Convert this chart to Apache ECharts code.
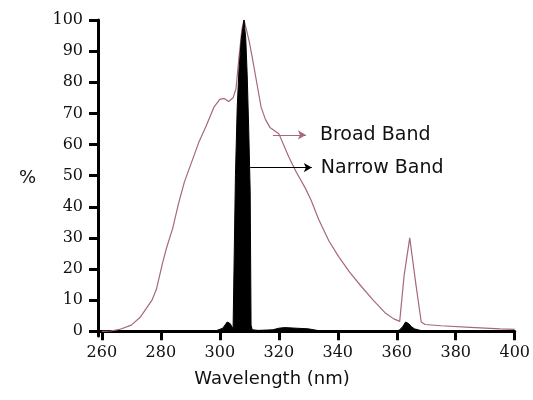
<!DOCTYPE html>
<html>
<head>
<meta charset="utf-8">
<script src="https://cdn.jsdelivr.net/npm/echarts@6/dist/echarts.min.js"></script>
<style>
  html, body { margin: 0; padding: 0; background: #fff; }
  #chart { width: 533px; height: 400px; }
</style>
</head>
<body>
<div id="chart"></div>
<script>
// tick labels
var xTicks = [260, 280, 300, 320, 340, 360, 380, 400];
var yTicks = [0, 10, 20, 30, 40, 50, 60, 70, 80, 90, 100];

// broad band lamp spectrum, [wavelength nm, %]
var broadWl = [260, 263, 266, 270, 273, 277, 278.5, 280.6, 282, 284, 286, 288, 290.7, 293, 295.4, 298, 300, 301.5, 303, 304.5, 305.5, 306.5, 307.5, 308.2, 309, 310, 311, 312.5, 314, 315.5, 317, 320, 323.4, 326, 329, 331, 333.5, 337, 340.3, 344, 348, 352, 356, 359, 361, 362.5, 364.4, 366.5, 368.3, 369.6, 375, 385, 395, 400];
var broadPct = [0, 0.1, 0.6, 2, 4.5, 10, 13.5, 22, 27, 33, 41, 48, 55, 61, 66, 72, 74.5, 74.8, 73.8, 75, 78, 88, 97, 100, 97, 93, 88, 80, 72, 68, 65.5, 63.5, 56, 51, 46, 42, 36, 29, 24, 19, 14.4, 10, 6, 4, 3.2, 18, 30, 15, 3, 2.2, 1.8, 1.3, 0.8, 0.6];

// narrow band lamp spectrum, [wavelength nm, %]; null = nothing above the baseline
var narrowWl = [298, 299, 301, 302.5, 303.5, 304.5, 305.1, 305.3, 305.9, 306.5, 307.3, 308.2, 308.8, 309.3, 309.8, 310.3, 310.6, 311, 313, 318, 320, 322, 326, 330, 333, 336, 348, 360, 361, 362, 363, 364, 365, 366, 368, 370];
var narrowPct = [0, 0.3, 1, 3, 2.5, 0.8, 1, 50, 72, 84, 94, 100, 94, 82, 65, 45, 2, 0.5, 0.3, 0.5, 1, 1.2, 1, 0.8, 0.3, 0, null, 0, 0.5, 1.5, 3, 2.5, 1.5, 0.8, 0.3, 0];

// dashed zero line
var baseWl = [260, 400];
var basePct = [0, 0];

function pairs(xs, ys) {
  return xs.map(function (x, i) { return [x, ys[i]]; });
}

var labelFont = { color: '#111', fontFamily: 'DejaVu Sans', fontSize: 19 };

var chart = echarts.init(document.getElementById('chart'));

var option = {
  backgroundColor: '#fff',
  animation: false,
  grid: { left: 98, right: 16, top: 20, bottom: 64 },
  xAxis: {
    type: 'value',
    min: 258.7,
    max: 400,
    axisLine: { show: true, lineStyle: { color: '#000', width: 3 } },
    axisTick: { show: true, length: 9, lineStyle: { color: '#000', width: 3 }, customValues: xTicks },
    axisLabel: {
      customValues: xTicks,
      margin: 9,
      color: '#111',
      fontFamily: 'DejaVu Serif',
      fontSize: 16
    },
    splitLine: { show: false }
  },
  yAxis: {
    type: 'value',
    min: -1.5,
    max: 100,
    name: '%',
    nameLocation: 'middle',
    nameRotate: 0,
    nameGap: 62,
    nameTextStyle: { color: '#111', fontFamily: 'DejaVu Sans', fontSize: 18, padding: [0, 0, 14, 0] },
    axisLine: { show: true, lineStyle: { color: '#000', width: 3 } },
    axisTick: { show: true, length: 9, lineStyle: { color: '#000', width: 3 }, customValues: yTicks },
    axisLabel: {
      customValues: yTicks,
      margin: 15,
      color: '#111',
      fontFamily: 'DejaVu Serif',
      fontSize: 16
    },
    splitLine: { show: false }
  },
  graphic: [{
    type: 'text',
    x: 272,
    y: 370,
    style: { text: 'Wavelength (nm)', fill: '#111', font: '18px "DejaVu Sans"', align: 'center' }
  }],
  series: [
    {
      name: 'baseline',
      type: 'line',
      data: pairs(baseWl, basePct),
      symbol: 'none',
      z: 1,
      lineStyle: { color: '#000', width: 1.6, type: [5, 3] }
    },
    {
      name: 'Narrow Band',
      type: 'line',
      data: pairs(narrowWl, narrowPct),
      symbol: 'none',
      connectNulls: false,
      z: 3,
      lineStyle: { color: '#000', width: 1 },
      areaStyle: { color: '#000', opacity: 1, origin: 0 }
    },
    {
      name: 'Broad Band',
      type: 'line',
      data: pairs(broadWl, broadPct),
      symbol: 'none',
      z: 2,
      lineStyle: { color: '#a6687a', width: 1.2 }
    },
    {
      name: 'arrows',
      type: 'line',
      data: [],
      markLine: {
        silent: true,
        symbol: ['none', 'arrow'],
        symbolSize: [7, 8],
        data: [
          [
            { coord: [318, 63.1], lineStyle: { color: '#a6687a', width: 1, type: 'solid' } },
            { coord: [329.2, 63.1], label: Object.assign({ show: true, position: 'end', distance: 14, formatter: 'Broad Band' }, labelFont) }
          ],
          [
            { coord: [310.3, 52.6], lineStyle: { color: '#000', width: 1, type: 'solid' } },
            { coord: [331.2, 52.6], label: Object.assign({ show: true, position: 'end', distance: 9, formatter: 'Narrow Band' }, labelFont) }
          ]
        ]
      }
    }
  ]
};

chart.setOption(option);
</script>
</body>
</html>
